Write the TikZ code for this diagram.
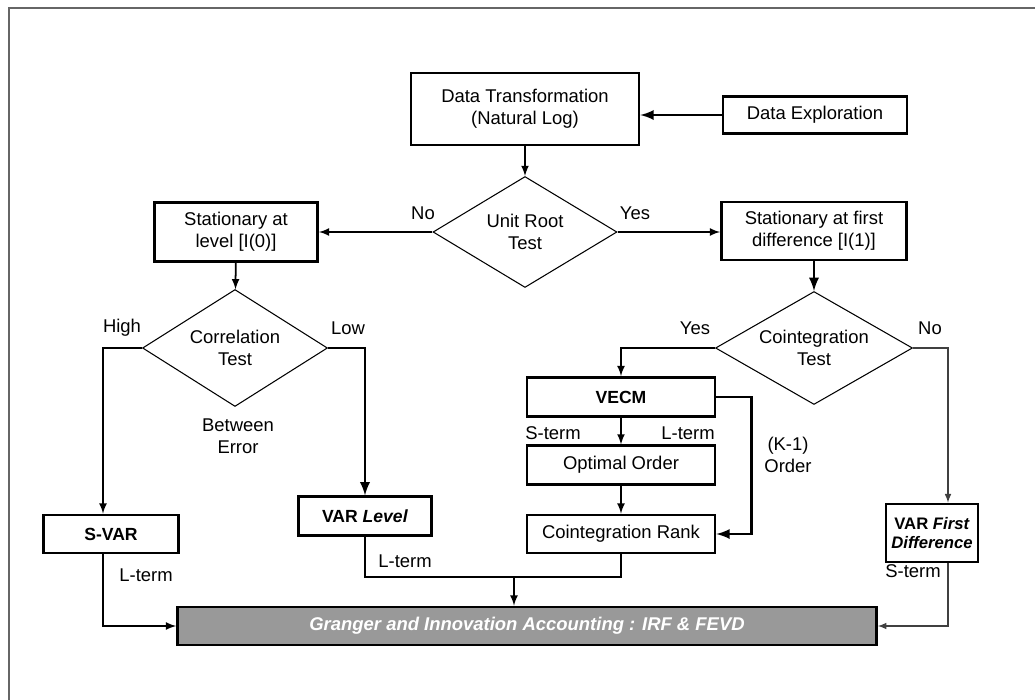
\documentclass[tikz,border=0pt]{standalone}
\usepackage{fontspec}
\setmainfont{Liberation Sans}
\usetikzlibrary{arrows, shapes.geometric}

\begin{document}
\begin{tikzpicture}[x=0.02cm, y=-0.02cm, line width=1pt, >=latex]
    \tikzstyle{every node}=[font=\fontsize{10.5}{12.5}\selectfont]
    \tikzstyle{box}=[
        draw = black,
        line width = 1.6pt,
        align = center,
        inner sep = 1pt
    ]
    \tikzstyle{test}=[diamond, aspect=1.75, draw=black, line width=0.6pt, align=center, inner sep=0pt]
    \tikzstyle{tag}=[inner sep=0pt, align=center]
    \tikzstyle{bold}=[font=\fontsize{10}{11.5}\selectfont\bfseries]
    \useasboundingbox (0,0) rectangle (1035,700);
    \draw[line width=1.2pt, black!60] (9,710) -- (9,8) -- (1045,8);

    % boxes
    \node[box, minimum width=4.56cm, minimum height=1.44cm] (dt) at (525,109) {Data Transformation\\(Natural Log)};
    \node[box, minimum width=3.68cm, minimum height=0.74cm] (de) at (815,115) {Data Exploration};
    \node[box, minimum width=3.26cm, minimum height=1.18cm] (sl) at (236,232) {Stationary at\\level [I(0)]};
    \node[box, minimum width=3.7cm, minimum height=1.16cm] (sfd) at (814,231) {Stationary at first\\difference [I(1)]};
    \node[box, bold, minimum width=2.7cm, minimum height=0.76cm] (svar) at (111,534) {S-VAR};
    \node[box, bold, line width=1.2pt, minimum width=2.66cm, minimum height=0.78cm] (varl) at (365,516) {VAR \textit{Level}};
    \node[box, bold, minimum width=3.76cm, minimum height=0.78cm] (vecm) at (621,397) {VECM};
    \node[box, line width=1.2pt, minimum width=3.76cm, minimum height=0.78cm] (oo) at (621,465) {Optimal Order};
    \node[box, minimum width=3.76cm, minimum height=0.76cm] (cr) at (621,534) {Cointegration Rank};
    \node[box, bold, font=\fontsize{9.5}{11}\selectfont\bfseries, inner sep=0pt, minimum width=1.84cm, minimum height=1.16cm] (vfd) at (932,533)
        {VAR \textit{First}\\\itshape Difference};
    \node[box, fill=black!40, text=white, minimum width=13.98cm, minimum height=0.76cm] (gr) at (527,626)
        {\bfseries\itshape Granger and Innovation Accounting : IRF \& FEVD};

    % tests
    \node[test, minimum width=3.68cm, minimum height=2.22cm] (urt) at (525,232) {Unit Root\\Test};
    \node[test, minimum width=3.7cm, minimum height=2.34cm] (corr) at (235,348) {Correlation\\Test};
    \node[test, minimum width=3.94cm, minimum height=2.26cm] (coint) at (814,348) {Cointegration\\Test};

    % labels
    \node[tag] (lno) at (423,213) {No};
    \node[tag] (lyes) at (635,213) {Yes};
    \node[tag] (lhigh) at (122,328) {High};
    \node[tag] (llow) at (348,328) {Low};
    \node[tag] (lbe) at (238,436) {Between\\Error};
    \node[tag] (lyes2) at (695,328) {Yes};
    \node[tag] (lno2) at (930,328) {No};
    \node[tag] (lst1) at (553,433) {S-term};
    \node[tag] (llt1) at (688,433) {L-term};
    \node[tag] (lk) at (788,455) {(K-1)\\Order};
    \node[tag] (llt2) at (146,575) {L-term};
    \node[tag] (llt3) at (405,561) {L-term};
    \node[tag] (lst2) at (913,571) {S-term};

    \coordinate (hi) at (103,348);
    \coordinate (no) at (948,348);
    \coordinate (jn) at (514,577);

    % connectors
    \draw[->, line width=1.6pt] (de.west) -- (de.west -| dt.east);
    \draw[->] (dt) -- (urt);
    \draw[->] (urt.west) -- (sl.east);
    \draw[->] (urt.east) -- (urt.east -| sfd.west);
    \draw[->] (sl) -- (corr);
    \draw[->] (corr.west) -- (hi) -- (hi |- svar.north);
    \draw[->, line width=1.6pt] (corr.east) -| (varl.north);
    \draw[->, line width=1.6pt] (sfd) -- (coint);
    \draw[->] (coint.west) -| (vecm.north);
    \draw[->] (vecm) -- (oo);
    \draw[->] (oo) -- (cr);
    \draw[->, line width=1.6pt] (vecm.east) -- ++(35,0) |- (cr.east);
    \draw[->, line width=0.7pt, black!75] (coint.east) -- (no) -- (no |- vfd.north);
    \draw[->, line width=0.7pt, black!75] (no |- vfd.south) |- (gr.east);
    \draw[->] (hi |- svar.south) |- (gr.west);
    \draw (varl.south) |- (jn);
    \draw (cr.south) |- (jn);
    \draw[->] (jn) -- (jn |- gr.north);
\end{tikzpicture}
\end{document}
